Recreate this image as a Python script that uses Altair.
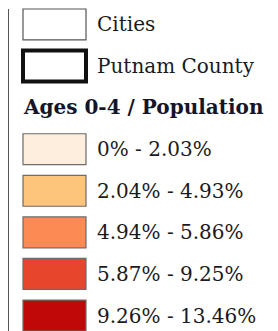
import altair as alt
import pandas as pd

# Legend rows (top to bottom)
rows = ["Cities", "Putnam County", "Ages 0-4 / Population",
        "0% - 2.03%", "2.04% - 4.93%", "4.94% - 5.86%", "5.87% - 9.25%", "9.26% - 13.46%"]
kinds = ["box", "box", "title", "swatch", "swatch", "swatch", "swatch", "swatch"]
fills = ["#ffffff", "#ffffff", None, "#fdeedd", "#fdc47c", "#fc8a55", "#e8452d", "#c10808"]
stroke_colors = ["#555555", "#111111", None, "#6b6b6b", "#6b6b6b", "#6b6b6b", "#6b6b6b", "#6b6b6b"]
stroke_widths = [1.2, 4, 0, 1.2, 1.2, 1.2, 1.2, 1.2]

df = pd.DataFrame({"row": rows, "kind": kinds, "fill": fills,
                   "stroke": stroke_colors, "sw": stroke_widths})

W, H = 262, 322
yscale = alt.Scale(domain=rows, paddingInner=0.255, paddingOuter=0)
yenc = alt.Y("row:N", scale=yscale, axis=None)

boxes = alt.Chart(df).transform_filter(alt.datum.kind != "title").mark_rect().encode(
    y=yenc,
    x=alt.value(15), x2=alt.value(78),
    fill=alt.Fill("fill:N", scale=None),
    stroke=alt.Stroke("stroke:N", scale=None),
    strokeWidth=alt.StrokeWidth("sw:Q", scale=None),
)

labels = alt.Chart(df).transform_filter(alt.datum.kind != "title").mark_text(
    align="left", baseline="middle", font="DejaVu Serif", fontSize=20, color="#1a1a22", dy=1
).encode(y=yenc, x=alt.value(89), text="row:N")

title = alt.Chart(df).transform_filter(alt.datum.kind == "title").mark_text(
    align="left", baseline="middle", font="DejaVu Serif", fontSize=20, fontWeight="bold",
    color="#15152a"
).encode(y=yenc, x=alt.value(16), text="row:N")

border = alt.Chart(df).mark_rule(color="#555555", strokeWidth=1).encode(
    x=alt.value(0.5), y=alt.value(0), y2=alt.value(H)
)

chart = alt.layer(border, boxes, labels, title).properties(
    width=W, height=H, padding=0
).configure_view(stroke=None)

chart.save("out.html", embed_options={"renderer": "svg", "actions": False})
